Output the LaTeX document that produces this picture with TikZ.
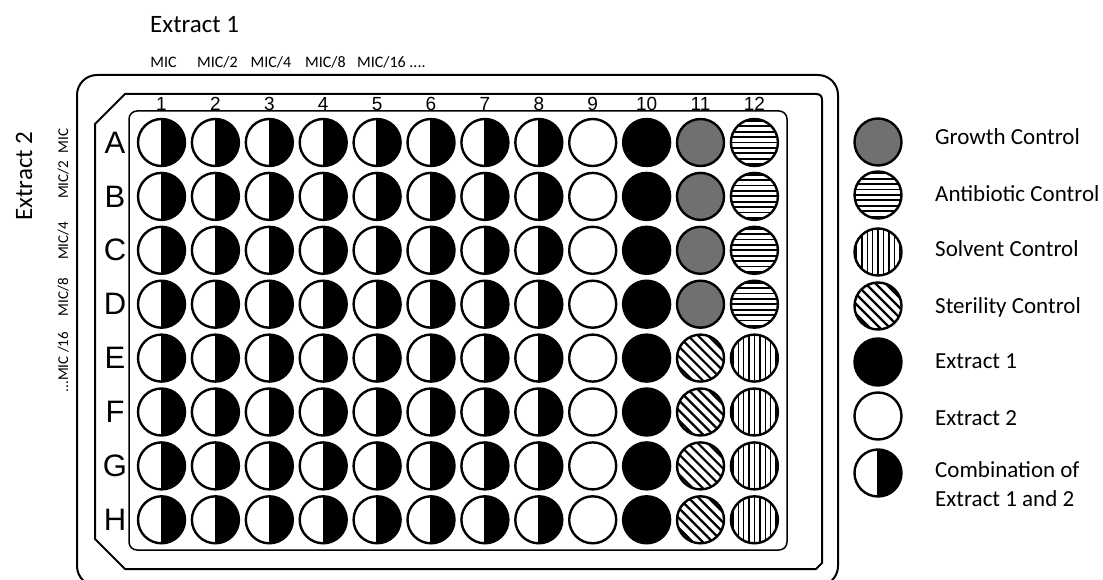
\documentclass[tikz,border=0pt]{standalone}
\usepackage{fontspec}
\setmainfont{Carlito}
\newfontfamily\arialf{Liberation Sans}
\definecolor{growth}{RGB}{112,112,112}
\begin{document}
\begin{tikzpicture}[x=1pt,y=-1pt,
  well/.style={circle, draw, line width=2.4pt, minimum size=47pt, inner sep=0pt},
  halfwell/.style={well, path picture={
    \fill (path picture bounding box.north) rectangle (path picture bounding box.south east);
    \draw[line width=1.4pt] (path picture bounding box.north) -- (path picture bounding box.south);}},
  fullwell/.style={well, fill=black},
  growwell/.style={well, fill=growth},
  hlinewell/.style={well, path picture={
    \foreach \i in {-4,...,4}
      \draw[line width=1.8pt] ([xshift=-30pt,yshift={\i*5.4pt}]path picture bounding box.center) -- ++(60pt,0pt);}},
  vlinewell/.style={well, path picture={
    \foreach \i in {-4,...,4}
      \draw[line width=1.4pt] ([yshift=-30pt,xshift={\i*5.4pt}]path picture bounding box.center) -- ++(0pt,60pt);}},
  dlinewell/.style={well, path picture={
    \foreach \i in {-4,...,4}
      \draw[line width=2.2pt] ([xshift={\i*5pt-30pt},yshift={\i*5pt+30pt}]path picture bounding box.center) -- ++(60pt,-60pt);}},
  frame/.style={line width=2pt},
  lbl/.style={inner sep=0pt, font=\fontsize{23}{28}\selectfont},
  biglbl/.style={inner sep=0pt, font=\fontsize{25}{30}\selectfont},
  mic/.style={inner sep=0pt, font=\fontsize{16}{18}\selectfont},
  vmic/.style={inner sep=0pt, rotate=90, anchor=base, font=\fontsize{15}{17}\selectfont},
  rowl/.style={inner sep=0pt, font=\arialf\fontsize{31}{31}\selectfont},
  coll/.style={inner sep=0pt, font=\arialf\fontsize{19}{19}\selectfont}
]
\useasboundingbox (0,0) rectangle (1103,580);

% plate frames
\draw[frame, rounded corners=20pt] (77,75) rectangle (838,586);
\draw[frame] (95,124) -- (125,94) -- (816,94) .. controls (820,94) and (822,96) .. (822,100)
  -- (822,563) -- (816,569) -- (125,569) -- (95,539) -- cycle;
\draw[line width=1.5pt, rounded corners=8pt] (129,111) rectangle (787,550);

% column numbers
\foreach \c in {1,...,12}{
  \pgfmathsetmacro\xx{161.5+53.9*(\c-1)}
  \node[coll] (n\c) at (\xx,104) {\c};
}

% wells
\foreach \r [count=\ri from 0] in {A,B,C,D,E,F,G,H}{
  \pgfmathsetmacro\yy{142.5+53.9*\ri}
  \node[rowl] (L\r) at (115,\yy) {\r};
  \foreach \c in {1,...,8}{
    \pgfmathsetmacro\xx{161.5+53.9*(\c-1)}
    \node[halfwell] (w\r\c) at (\xx,\yy) {};
  }
  \node[well] (w\r9) at (592.7,\yy) {};
  \node[fullwell] (w\r10) at (646.6,\yy) {};
  \ifnum\ri<4
    \node[growwell] (w\r11) at (700.5,\yy) {};
    \node[hlinewell] (w\r12) at (754.4,\yy) {};
  \else
    \node[dlinewell] (w\r11) at (700.5,\yy) {};
    \node[vlinewell] (w\r12) at (754.4,\yy) {};
  \fi
}

% top labels
\node[biglbl, anchor=base west] (ex1) at (150,33) {Extract 1};
\node[mic, anchor=base] (m1) at (163.5,68) {MIC};
\node[mic, anchor=base] (m2) at (217.5,68) {MIC/2};
\node[mic, anchor=base] (m3) at (271,68) {MIC/4};
\node[mic, anchor=base] (m4) at (325.5,68) {MIC/8};
\node[mic, anchor=base west] (m5) at (357,68) {MIC/16 ....};

% left labels
\node[biglbl, rotate=90] (ex2) at (24,176) {Extract 2};
\node[vmic] (v1) at (68,141) {MIC};
\node[vmic] (v2) at (68,180) {MIC/2};
\node[vmic] (v3) at (68,241) {MIC/4};
\node[vmic] (v4) at (68,297) {MIC/8};
\node[vmic] (v5) at (68,362) {...MIC /16};

% legend
\node[growwell] (g1) at (878,142) {};
\node[hlinewell] (g2) at (878,195) {};
\node[vlinewell] (g3) at (878,252) {};
\node[dlinewell] (g4) at (878,306) {};
\node[fullwell] (g5) at (878,362) {};
\node[well] (g6) at (878,416) {};
\node[halfwell] (g7) at (878,473) {};
\node[lbl, anchor=base west] (t1) at (935,145) {Growth Control};
\node[lbl, anchor=base west] (t2) at (935,202) {Antibiotic Control};
\node[lbl, anchor=base west] (t3) at (935,257) {Solvent Control};
\node[lbl, anchor=base west] (t4) at (935,313) {Sterility Control};
\node[lbl, anchor=base west] (t5) at (935,368) {Extract 1};
\node[lbl, anchor=base west] (t6) at (935,425) {Extract 2};
\node[lbl, anchor=base west] (t7) at (935,477) {Combination of};
\node[lbl, anchor=base west] (t8) at (935,506) {Extract 1 and 2};
\end{tikzpicture}
\end{document}
